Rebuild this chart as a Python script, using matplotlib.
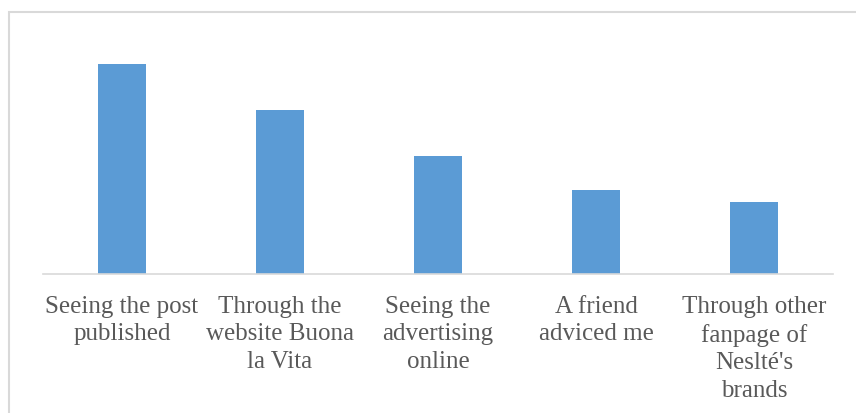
import matplotlib.pyplot as plt
from matplotlib.patches import Rectangle

categories = [
    "Seeing the post\npublished",
    "Through the\nwebsite Buona\nla Vita",
    "Seeing the\nadvertising\nonline",
    "A friend\nadviced me",
    "Through other\nfanpage of\nNeslté's\nbrands",
]
values = [21.0, 16.4, 11.8, 8.4, 7.2]

W, H = 856, 414
fig = plt.figure(figsize=(W / 100, H / 100), dpi=100)
ax = fig.add_axes([43 / W, 1 - 275 / H, (833 - 43) / W, (275 - 31) / H])

x = range(len(values))
ax.bar(x, values, width=0.31, color="#5B9BD5")
ax.set_xlim(-0.5, len(values) - 0.5)
ax.set_ylim(0, 24.4)

for side in ["left", "right", "top"]:
    ax.spines[side].set_visible(False)
ax.spines["bottom"].set_color("#D9D9D9")
ax.spines["bottom"].set_linewidth(1.2)
ax.set_yticks([])
ax.set_xticks(list(x))
ax.set_xticklabels(categories, fontsize=18, color="#595959",
                   family="Liberation Serif", linespacing=1.33)
ax.tick_params(axis="x", length=0, pad=15)

# outer chart frame
fig.patches.append(Rectangle((9 / W, -0.1), 1.0, 1 - 13 / H + 0.1,
                             transform=fig.transFigure, fill=False,
                             edgecolor="#D9D9D9", linewidth=1.5))

fig.savefig("out.png", dpi=100)
